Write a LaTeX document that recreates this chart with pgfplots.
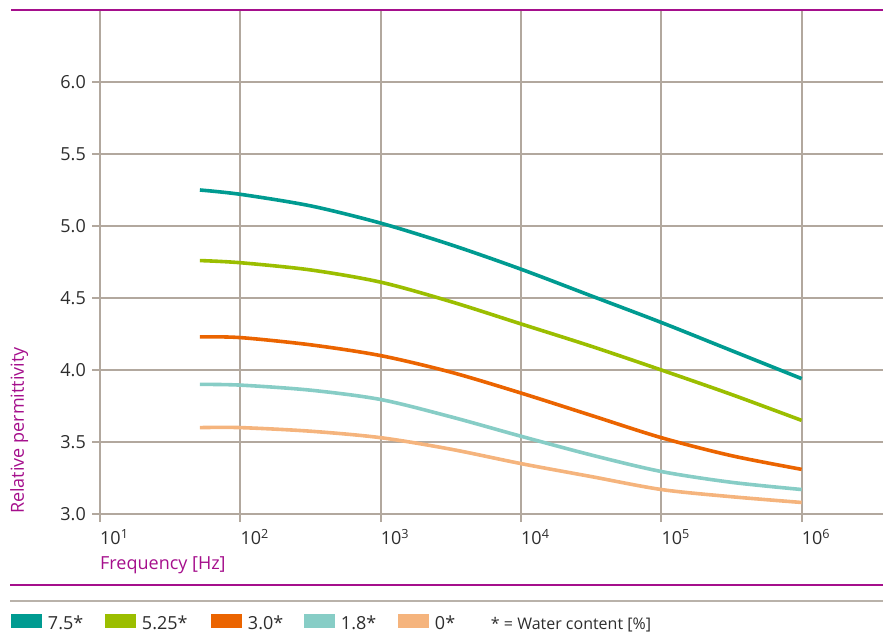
\documentclass[border=0pt]{standalone}
\usepackage{fontspec}
\setmainfont{Open Sans}
\usepackage{pgfplots}
\usepackage{pgfplotstable}
\pgfplotsset{compat=1.18}
\definecolor{cTeal}{RGB}{0,155,145}
\definecolor{cGreen}{RGB}{155,190,0}
\definecolor{cOrange}{RGB}{235,100,0}
\definecolor{cLtTeal}{RGB}{135,205,198}
\definecolor{cPeach}{RGB}{245,180,125}
\definecolor{cMag}{RGB}{165,15,140}
\definecolor{cGrid}{RGB}{178,168,158}
\definecolor{cRule}{RGB}{185,178,170}
\definecolor{cText}{RGB}{45,45,45}

\pgfplotstableread{
f       teal   green  orange lteal peach
51.5    5.25   4.76   4.23   3.90  3.60
100     5.22   4.745  4.225  3.895 3.60
316     5.14   4.695  4.175  3.86  3.575
1000    5.02   4.61   4.10   3.795 3.53
3162    4.87   4.475  3.985  3.675 3.45
10000   4.70   4.32   3.84   3.54  3.35
31623   4.515  4.165  3.685  3.41  3.26
100000  4.33   4.00   3.53   3.295 3.17
316228  4.135  3.83   3.405  3.22  3.12
1000000 3.94   3.65   3.31   3.17  3.08
}\data

\begin{document}
\begin{tikzpicture}[font=\fontsize{18pt}{21pt}\selectfont]
\useasboundingbox (0,0) rectangle (883pt,634pt);
\begin{axis}[
  at={(100pt,120pt)}, anchor=south west,
  scale only axis, width=783pt, height=504pt,
  xmode=log, log basis x=10,
  xmin=10, xmax=3.8e6, ymin=3, ymax=6.5,
  xtick={10,100,1000,10000,100000,1000000},
  xticklabels={10\textsuperscript{1},10\textsuperscript{2},10\textsuperscript{3},10\textsuperscript{4},10\textsuperscript{5},10\textsuperscript{6}},
  ytick={3,3.5,4,4.5,5,5.5,6},
  yticklabels={3.0,3.5,4.0,4.5,5.0,5.5,6.0},
  axis x line*=bottom, axis y line*=left,
  axis line style={draw=cGrid, line width=1.5pt, -},
  grid=major,
  major grid style={draw=cGrid, line width=1.8pt},
  tick align=outside,
  major tick length=8pt, minor tick length=-8pt,
  major tick style={draw=cGrid, line width=1.8pt},
  minor tick style={draw=cGrid, line width=1.2pt},
  xticklabel style={anchor=north west, inner sep=0pt, yshift=-7pt, text=cText},
  yticklabel style={anchor=east, inner sep=0pt, xshift=-6pt, text=cText},
  xlabel={Frequency [Hz]},
  ylabel={Relative permittivity},
  xlabel style={at={(axis description cs:0,-0.0834)}, anchor=north west, inner sep=0pt, text=cMag},
  ylabel style={at={(axis description cs:-0.1149,0)}, anchor=north west, inner sep=0pt, text=cMag},
  legend style={at={(axis description cs:-0.1137,-0.2153)}, anchor=west,
    draw=none, fill=none, inner sep=0pt, outer sep=0pt,
    legend columns=-1,
    /tikz/every odd column/.append style={column sep=6pt},
    /tikz/every even column/.append style={column sep=0pt},
    nodes={inner sep=0pt, text=cText}},
  legend cell align=left,
  legend image code/.code={\fill[#1] (0pt,-4pt) rectangle (31pt,10pt);},
]
\addplot[cTeal, line width=3.6pt, smooth, forget plot] table[x=f, y=teal] {\data};
\addplot[cGreen, line width=3.6pt, smooth, forget plot] table[x=f, y=green] {\data};
\addplot[cOrange, line width=3.6pt, smooth, forget plot] table[x=f, y=orange] {\data};
\addplot[cLtTeal, line width=3.6pt, smooth, forget plot] table[x=f, y=lteal] {\data};
\addplot[cPeach, line width=3.6pt, smooth, forget plot] table[x=f, y=peach] {\data};
\addlegendimage{fill=cTeal, draw=none}
\addlegendentry{\makebox[57pt][l]{7.5*}}
\addlegendimage{fill=cGreen, draw=none}
\addlegendentry{\makebox[69pt][l]{5.25*}}
\addlegendimage{fill=cOrange, draw=none}
\addlegendentry{\makebox[56pt][l]{3.0*}}
\addlegendimage{fill=cLtTeal, draw=none}
\addlegendentry{\makebox[57pt][l]{1.8*}}
\addlegendimage{fill=cPeach, draw=none}
\addlegendentry{\makebox[50pt][l]{0*}}
\addlegendimage{empty legend}
\addlegendentry{\fontsize{16pt}{19pt}\selectfont * = Water content [\%]}
\end{axis}
\draw[cMag, line width=1.6pt] (11pt,624pt) -- (883pt,624pt);
\draw[cMag, line width=1.5pt] (10pt,49pt) -- (883pt,49pt);
\draw[cRule, line width=1.5pt] (10pt,33pt) -- (883pt,33pt);
\end{tikzpicture}
\end{document}
